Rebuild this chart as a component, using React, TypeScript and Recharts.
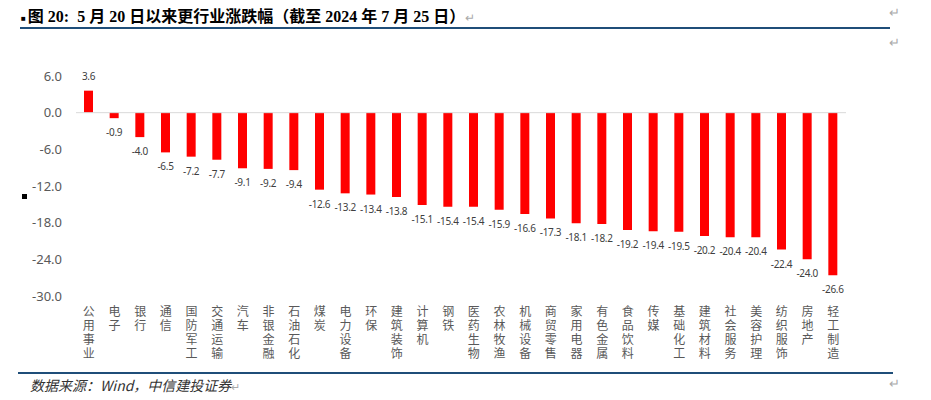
import React from 'react';
import { BarChart, Bar, XAxis, YAxis, ReferenceLine, LabelList } from 'recharts';

// 行业名称与 5/20 以来涨跌幅 (%)
const industries = [
  '公用事业', '电子', '银行', '通信', '国防军工', '交通运输', '汽车', '非银金融', '石油石化', '煤炭',
  '电力设备', '环保', '建筑装饰', '计算机', '钢铁', '医药生物', '农林牧渔', '机械设备', '商贸零售', '家用电器',
  '有色金属', '食品饮料', '传媒', '基础化工', '建筑材料', '社会服务', '美容护理', '纺织服饰', '房地产', '轻工制造',
];
const changes = [
  3.6, -0.9, -4.0, -6.5, -7.2, -7.7, -9.1, -9.2, -9.4, -12.6,
  -13.2, -13.4, -13.8, -15.1, -15.4, -15.4, -15.9, -16.6, -17.3, -18.1,
  -18.2, -19.2, -19.4, -19.5, -20.2, -20.4, -20.4, -22.4, -24.0, -26.6,
];
const yTicks = [6, 0, -6, -12, -18, -24, -30];

const data = industries.map((name, i) => ({ name, value: changes[i] }));

const GRAY = '#595959';
const FONT = "'Noto Sans', 'Noto Sans CJK SC', sans-serif";

// 竖排类别名：每个字单独一行
const VerticalTick = (props: any) => {
  const { x, y, payload } = props;
  const chars: string[] = Array.from(payload.value);
  return (
    <g>
      {chars.map((c, i) => (
        <text
          key={i}
          x={x}
          y={y + 12 + i * 14}
          textAnchor="middle"
          fill={GRAY}
          fontSize={12}
          fontFamily="'Noto Sans CJK SC', sans-serif"
        >
          {c}
        </text>
      ))}
    </g>
  );
};

const ValueLabel = (props: any) => {
  const { x, y, width, height, value } = props;
  const cx = x + width / 2;
  const pos = value >= 0;
  const top = Math.min(y, y + height);
  const bottom = Math.max(y, y + height);
  return (
    <text
      x={cx}
      y={pos ? top - 11 : bottom + 18}
      textAnchor="middle"
      fill="#404040"
      fontSize={10}
      letterSpacing={-0.3}
      fontFamily={FONT}
    >
      {value.toFixed(1)}
    </text>
  );
};

export default function App() {
  return (
    <div style={{ position: 'absolute', left: 0, top: 0, width: 931, height: 400, background: '#fff' }}>
      {/* 标题 */}
      <div
        style={{
          position: 'absolute', left: 21, top: 3, fontSize: 16, fontWeight: 'bold',
          fontFamily: "'Liberation Serif', 'Noto Sans CJK SC', serif", color: '#000', whiteSpace: 'nowrap',
        }}
      >
        <span style={{ fontSize: 8, verticalAlign: 'middle', marginRight: 2 }}>■</span>
        图 20:&nbsp;&nbsp;5 月 20 日以来更行业涨跌幅（截至 2024 年 7 月 25 日）
        <span style={{ color: '#aaa', fontWeight: 'normal', fontSize: 12 }}>↵</span>
      </div>
      <div style={{ position: 'absolute', left: 20, top: 27, width: 870, height: 2, background: '#1F4E79' }} />
      <div style={{ position: 'absolute', left: 889, top: 5, color: '#aaa', fontSize: 13 }}>↵</div>
      <div style={{ position: 'absolute', left: 889, top: 35, color: '#aaa', fontSize: 13 }}>↵</div>
      <div style={{ position: 'absolute', left: 22, top: 194, width: 5, height: 5, background: '#000' }} />

      <div style={{ position: 'absolute', left: 0, top: 0 }}>
        <BarChart width={931} height={370} data={data} margin={{ top: 76, right: 85, left: 0, bottom: 4 }}>
          <YAxis
            type="number"
            domain={[-30, 6]}
            ticks={yTicks}
            interval={0}
            width={76}
            axisLine={false}
            tickLine={false}
            tickSize={0}
            tickMargin={14}
            tickFormatter={(v: number) => v.toFixed(1)}
            tick={{ fill: GRAY, fontSize: 13, fontFamily: FONT }}
          />
          <XAxis
            dataKey="name"
            interval={0}
            height={70}
            axisLine={false}
            tickLine={false}
            tick={<VerticalTick />}
          />
          <ReferenceLine y={0} stroke="#d9d9d9" strokeWidth={1} />
          <Bar dataKey="value" fill="#FF0000" barSize={9} isAnimationActive={false}>
            <LabelList dataKey="value" content={<ValueLabel />} />
          </Bar>
        </BarChart>
      </div>

      <div style={{ position: 'absolute', left: 18, top: 372, width: 875, height: 2, background: '#1F4E79' }} />
      <div
        style={{
          position: 'absolute', left: 30, top: 375, fontSize: 14, fontStyle: 'italic', color: '#333',
          fontFamily: "'Noto Sans CJK SC', sans-serif", whiteSpace: 'nowrap',
        }}
      >
        数据来源：Wind，中信建投证券<span style={{ color: '#aaa', fontStyle: 'normal', fontSize: 11 }}>↵</span>
      </div>
      <div style={{ position: 'absolute', left: 889, top: 376, color: '#aaa', fontSize: 13 }}>↵</div>
    </div>
  );
}
